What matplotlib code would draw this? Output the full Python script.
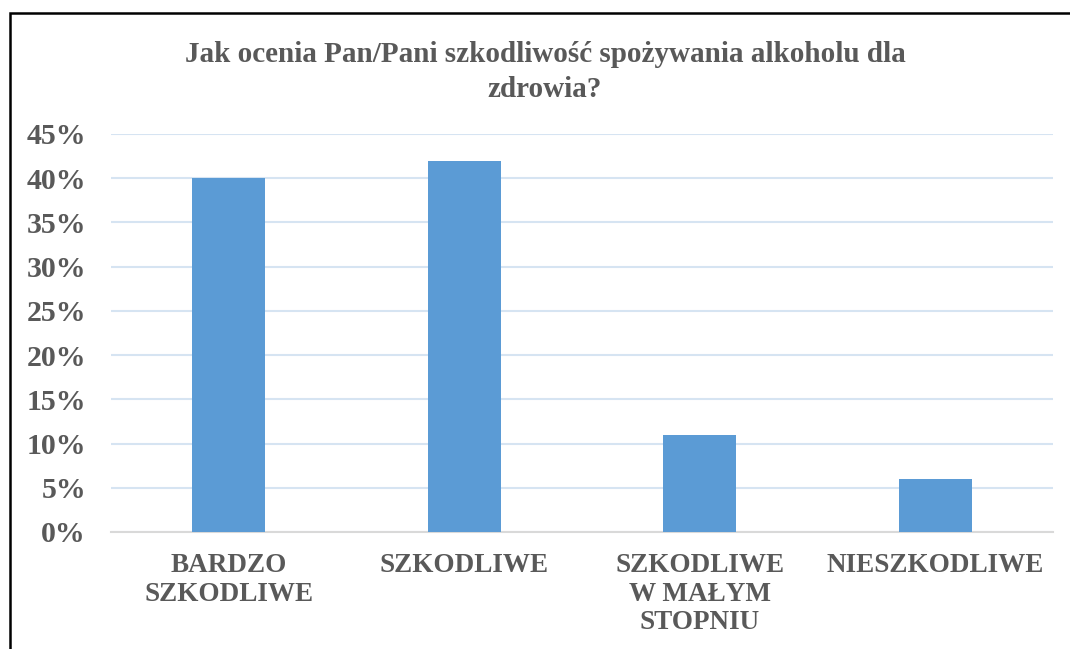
import matplotlib.pyplot as plt
from matplotlib.patches import Rectangle

categories = ['BARDZO\nSZKODLIWE', 'SZKODLIWE', 'SZKODLIWE\nW MAŁYM\nSTOPNIU', 'NIESZKODLIWE']
values = [40, 42, 11, 6]
yticks = [0, 5, 10, 15, 20, 25, 30, 35, 40, 45]
title = 'Jak ocenia Pan/Pani szkodliwość spożywania alkoholu dla\nzdrowia?'

plt.rcParams['font.family'] = ['Liberation Serif', 'DejaVu Serif']
plt.rcParams['font.weight'] = 'bold'
gray = '#595959'

W, H = 1070, 649
fig = plt.figure(figsize=(W / 100, H / 100), dpi=100)
ax = fig.add_axes([111 / W, 1 - 532 / H, (1053 - 111) / W, (532 - 134) / H])

x = range(len(categories))
ax.bar(x, values, width=0.31, color='#5b9bd5', zorder=3)
ax.set_xlim(-0.5, len(categories) - 0.5)
ax.set_ylim(0, 45)

ax.set_yticks(yticks)
ax.set_yticklabels([f'{t}%' for t in yticks], fontsize=21.5, color=gray, fontweight='bold')
ax.set_xticks(list(x))
ax.set_xticklabels(categories, fontsize=19.5, color=gray, fontweight='bold', linespacing=1.2, va='top')
ax.tick_params(axis='both', length=0)
ax.tick_params(axis='x', pad=15)
ax.tick_params(axis='y', pad=18)

ax.grid(axis='y', color='#d6e4f2', linewidth=1.5, zorder=0)
for s in ['top', 'right', 'left']:
    ax.spines[s].set_visible(False)
ax.spines['bottom'].set_color('#d9d9d9')
ax.spines['bottom'].set_linewidth(1.5)

fig.text(545 / W, 1 - 41 / H, title, ha='center', va='top', fontsize=21,
         color=gray, fontweight='bold', linespacing=1.4)

# frame around the chart, cut off at right and bottom
fig.patches.append(Rectangle((10 / W, -0.1), 1.2, 1 - 13 / H + 0.1, transform=fig.transFigure,
                             fill=False, edgecolor='black', linewidth=1.8))

fig.savefig('out.png', dpi=100)
